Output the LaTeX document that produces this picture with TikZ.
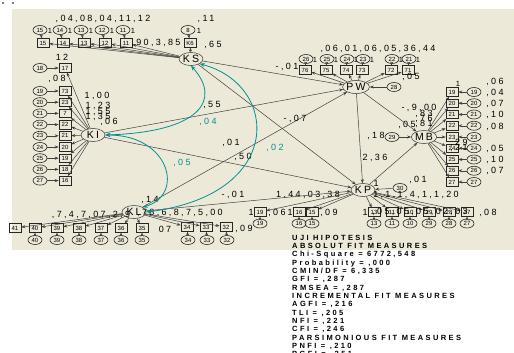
\documentclass[tikz,border=0pt]{standalone}
\usepackage{fontspec}
\setmainfont{Liberation Sans}
\newfontfamily\numf[LetterSpace=26]{Liberation Sans}
\newfontfamily\latf[LetterSpace=20]{Liberation Sans}
\newfontfamily\fitf[LetterSpace=32]{Liberation Sans}
\usetikzlibrary{shapes.geometric,arrows.meta}
\definecolor{bg}{RGB}{236,233,216}
\definecolor{cov}{RGB}{0,145,150}
\tikzset{
  lat/.style={ellipse, draw=black!80, line width=0.5pt, minimum width=24pt, minimum height=13pt, inner sep=0pt, font=\fontsize{10.5}{10.5}\latf},
  obs/.style={rectangle, draw=black!85, line width=0.6pt, minimum width=12pt, minimum height=8.5pt, inner sep=0pt, font=\fontsize{6}{6}\selectfont},
  err/.style={ellipse, draw=black!85, line width=0.6pt, minimum width=14pt, minimum height=9pt, inner sep=0pt, font=\fontsize{6}{6}\selectfont},
  lbl/.style={inner sep=0pt, font=\fontsize{9}{9}\numf},
  slbl/.style={inner sep=0pt, font=\fontsize{7.5}{7.5}\numf},
  clbl/.style={lbl, text=cov},
  pth/.style={draw=black!75, line width=0.5pt, -{Stealth[length=4pt,width=3pt]}},
  cpth/.style={draw=cov, line width=0.8pt, {Stealth[length=5pt,width=4pt]}-{Stealth[length=5pt,width=4pt]}},
  fit/.style={anchor=base west, inner sep=0pt, font=\fontsize{7.5}{7.5}\fitf\bfseries}
}
\begin{document}
\begin{tikzpicture}[x=1pt,y=-1pt]
\useasboundingbox (0,0) rectangle (514,353);
\fill[bg] (12,9) rectangle (514,250);
\fill (3,3) circle (0.9);
\fill (13,3) circle (0.9);

% latent variables
\node[lat] (KS) at (191,59) {KS};
\node[lat] (KI) at (93,135) {KI};
\node[lat] (KL) at (134,212) {KL};
\node[lat] (PW) at (356,87) {PW};
\node[lat] (MB) at (424,137) {MB};
\node[lat] (KP) at (363,190) {KP};

% KS indicators
\foreach \i/\x/\t in {1/43/15,2/63/14,3/84/13,4/105/12,5/126/11}{
  \node[obs] (ks\i) at (\x,43) {\t};
  \node[err] (eks\i) at (\x-3,30) {\t};
  \draw[pth] (eks\i) -- (ks\i);
  \draw[pth] (KS) -- (ks\i);
  \node[slbl] at (\x+7,31) {1};
}
\node[obs] (ks6) at (190,43) {K6};
\node[err] (eks6) at (188,30) {8};
\draw[pth] (eks6) -- (ks6);
\draw[pth] (KS) -- (ks6);
\node[slbl] at (199,31) {1};
\node[lbl] at (103,19) {,04,08,04,11,12};
\node[lbl] at (206,19) {,11};
\node[lbl] at (156,43) {,90,3,85};
\node[lbl] at (213,45) {,65};

% KI indicators
\node[obs] (ki0) at (65,68) {17};
\node[err] (eki0) at (40,68) {18};
\draw[pth] (eki0) -- (ki0);
\draw[pth] (KI) -- (ki0);
\foreach \i/\t/\e in {1/73/19,2/23/20,3/7/21,4/22/22,5/21/23,6/20/24,7/19/25,8/18/26,9/16/27}{
  \node[obs] (ki\i) at (65,79.8+11.2*\i) {\t};
  \node[err] (eki\i) at (40,79.8+11.2*\i) {\e};
  \draw[pth] (eki\i) -- (ki\i);
  \draw[pth] (KI) -- (ki\i);
}
\node[lbl] at (62,57) {12};
\node[lbl] at (57,79) {,08};
\node[lbl] at (97,96) {1,00};
\node[lbl] at (98,106) {1,23};
\node[lbl] at (98,112) {1,55};
\node[lbl] at (98,117) {1,35};
\node[lbl] at (109,122) {,06};

% KL indicators
\node[obs] (kl1) at (15,228) {41};
\draw[pth] (KL) -- (kl1);
\foreach \i/\x/\t in {2/35/40,3/57/39,4/79/38,5/101/37,6/121/36,7/142/35}{
  \node[obs] (kl\i) at (\x,228) {\t};
  \node[err] (ekl\i) at (\x,240) {\t};
  \draw[pth] (KL) -- (kl\i);
  \draw[pth] (ekl\i) -- (kl\i);
}
\foreach \i/\x/\t in {8/187/34,9/206/33,10/226/32}{
  \node[obs] (kl\i) at (\x,227) {\t};
  \node[err] (ekl\i) at (\x+1,240) {\t};
  \draw[pth] (KL) -- (kl\i);
  \draw[pth] (ekl\i) -- (kl\i);
}
\node[lbl] at (150,200) {,14};
\node[lbl] at (91,215) {,7,4,7,07,2,9};
\node[lbl] at (180,213) {,78,6,8,7,5,00};
\node[lbl] at (165,229) {07};
\node[lbl] at (244,229) {,09};

% PW indicators
\foreach \i/\x/\t/\e in {1/305/76/26,2/326/75/25,3/346/74/24,4/362/73/23,5/391/72/22,6/408/71/21}{
  \node[obs] (pw\i) at (\x,70) {\t};
  \node[err] (epw\i) at (\x+1,59) {\e};
  \draw[pth] (epw\i) -- (pw\i);
  \draw[pth] (PW) -- (pw\i);
  \node[slbl] at (\x+10,60) {1};
}
\node[err] (epw) at (394,87) {28};
\draw[pth] (epw) -- (PW);
\node[lbl] at (378,49) {,06,01,06,05,36,44};
\node[lbl] at (287,67) {-,01};
\node[lbl] at (411,77) {,05};

% MB indicators
\foreach \i/\t/\e in {1/19/19,2/20/20,3/21/21,4/22/22,5/23/23,6/24/24,7/25/25,8/26/26,9/27/27}{
  \node[obs] (mb\i) at (452,80.75+11.25*\i) {\t};
  \node[err] (emb\i) at (474,80.75+11.25*\i) {\e};
  \draw[pth] (emb\i) -- (mb\i);
  \draw[pth] (MB) -- (mb\i);
}
\node[err] (emb) at (392,137) {29};
\draw[pth] (emb) -- (MB);
\node[lbl] at (376,136) {,18};
\node[slbl] at (458,84) {1};
\foreach \y/\t in {82/{,06},93/{,04},104/{,07},115/{,10},127/{,08},149/{,05},160/{,10},171/{,07}}{
  \node[lbl] at (495,\y) {\t};
}
\node[lbl] at (419,108) {-,9,00};
\node[lbl] at (424,114) {,83};
\node[lbl] at (424,119) {,76};
\node[lbl] at (424,124) {,81};
\node[lbl] at (407,125) {,05};
\node[lbl] at (459,143) {,29};
\node[lbl] at (459,148) {,21};

% KP indicators
\foreach \i/\x/\t in {1/260/19,2/299/16,3/312/15,4/374/13,5/392/11,6/410/10,7/429/29,8/449/28,9/467/27}{
  \node[obs] (kp\i) at (\x,212) {\t};
  \node[err] (ekp\i) at (\x,223.5) {\t};
  \draw[pth] (ekp\i) -- (kp\i);
  \draw[pth] (KP) -- (kp\i);
}
\node[err] (ekp) at (400,188) {30};
\draw[pth] (ekp) -- (KP);
\node[lbl] at (251,212) {1};
\node[lbl] at (277,213) {,06};
\node[lbl] at (290,212) {1};
\node[lbl] at (329,213) {,09};
\node[lbl] at (365,212) {1};
\node[lbl] at (420,212) {,05,05,05,02,03};
\node[lbl] at (488,213) {,08};
\node[lbl] at (308,195) {1,44,03,38};
\node[lbl] at (416,195) {1,1,1,4,1,1,20};
\node[lbl] at (418,180) {,01};
\node[lbl] at (376,183) {1};

% structural paths
\draw[pth] (KS) -- (PW);
\draw[pth] (KS) -- (KP);
\draw[pth] (KI) -- (PW);
\draw[pth] (KI) -- (KP);
\draw[pth] (KL) -- (PW);
\draw[pth] (KL) -- (KP);
\draw[pth] (PW) -- (KP);
\draw[pth] (PW) -- (MB);
\draw[pth] (KP) -- (MB);
\node[lbl] at (212,105) {,55};
\node[lbl] at (231,143) {,01};
\node[lbl] at (243,157) {,50};
\node[lbl] at (295,119) {-,07};
\node[lbl] at (233,195) {-,01};
\node[lbl] at (375,158) {2,36};

% covariances
\draw[cpth] (KS.south) .. controls (222,100) and (200,132) .. (KI.east);
\draw[cpth] (KS.south east) .. controls (280,85) and (285,195) .. (KL.east);
\draw[cpth] (KI.east) .. controls (170,135) and (185,195) .. (KL.north east);
\node[clbl] at (208,122) {,04};
\node[clbl] at (275,148) {,02};
\node[clbl] at (182,163) {,05};

% fit measures
\foreach \k/\t in {0/{UJI HIPOTESIS},1/{ABSOLUT FIT MEASURES},2/{Chi-Square = 6772,548},3/{Probability = ,000},4/{CMIN/DF = 6,335},5/{GFI = ,287},6/{RMSEA = ,287},7/{INCREMENTAL FIT MEASURES},8/{AGFI = ,216},9/{TLI = ,205},10/{NFI = ,221},11/{CFI = ,246},12/{PARSIMONIOUS FIT MEASURES},13/{PNFI = ,210},14/{PGFI = ,251}}{
  \node[fit] at (292,240+8.35*\k) {\t};
}
\end{tikzpicture}
\end{document}
